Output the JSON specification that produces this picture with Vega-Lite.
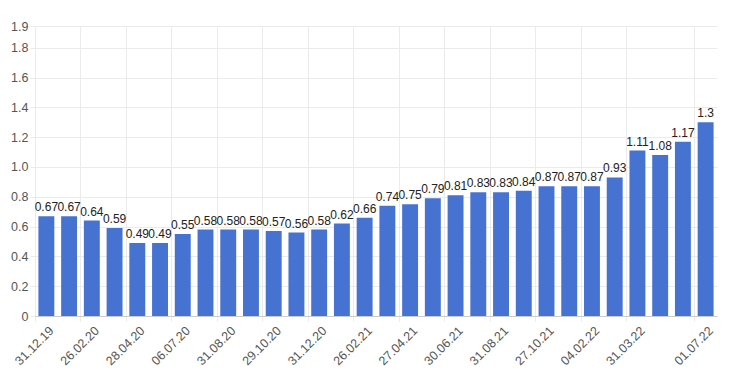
{
  "$schema": "https://vega.github.io/schema/vega-lite/v6.json",
  "width": 682,
  "height": 290,
  "autosize": {"type": "none"},
  "padding": {"left": 35, "top": 26, "right": 13, "bottom": 74},
  "background": "white",
  "data": {
    "values": [
      {"date": "31.12.19", "value": 0.67},
      {"date": "31.01.20", "value": 0.67},
      {"date": "26.02.20", "value": 0.64},
      {"date": "31.03.20", "value": 0.59},
      {"date": "28.04.20", "value": 0.49},
      {"date": "29.05.20", "value": 0.49},
      {"date": "06.07.20", "value": 0.55},
      {"date": "31.07.20", "value": 0.58},
      {"date": "31.08.20", "value": 0.58},
      {"date": "30.09.20", "value": 0.58},
      {"date": "29.10.20", "value": 0.57},
      {"date": "30.11.20", "value": 0.56},
      {"date": "31.12.20", "value": 0.58},
      {"date": "29.01.21", "value": 0.62},
      {"date": "26.02.21", "value": 0.66},
      {"date": "31.03.21", "value": 0.74},
      {"date": "27.04.21", "value": 0.75},
      {"date": "31.05.21", "value": 0.79},
      {"date": "30.06.21", "value": 0.81},
      {"date": "30.07.21", "value": 0.83},
      {"date": "31.08.21", "value": 0.83},
      {"date": "30.09.21", "value": 0.84},
      {"date": "27.10.21", "value": 0.87},
      {"date": "30.12.21", "value": 0.87},
      {"date": "04.02.22", "value": 0.87},
      {"date": "28.02.22", "value": 0.93},
      {"date": "31.03.22", "value": 1.11},
      {"date": "29.04.22", "value": 1.08},
      {"date": "31.05.22", "value": 1.17},
      {"date": "01.07.22", "value": 1.3}
    ]
  },
  "config": {
    "view": {"stroke": null},
    "font": "Liberation Sans",
    "axis": {
      "labelFont": "Liberation Sans",
      "labelColor": "#555555",
      "labelFontSize": 12.5,
      "gridColor": "#ebebeb",
      "tickColor": "#ebebeb",
      "domainColor": "#cccccc",
      "title": null
    }
  },
  "encoding": {
    "x": {
      "field": "date",
      "type": "nominal",
      "sort": null,
      "scale": {"paddingInner": 0.3, "paddingOuter": 0.15},
      "axis": {
        "values": ["31.12.19", "26.02.20", "28.04.20", "06.07.20", "31.08.20", "29.10.20", "31.12.20", "26.02.21", "27.04.21", "30.06.21", "31.08.21", "27.10.21", "04.02.22", "31.03.22", "01.07.22"],
        "bandPosition": 0,
        "tickOffset": -3.4,
        "labelAngle": 315,
        "labelAlign": "right",
        "labelBaseline": "top",
        "labelPadding": 3,
        "labelOffset": 4,
        "tickSize": 5,
        "grid": true,
        "domain": true,
        "domainColor": "#cccccc"
      }
    },
    "y": {
      "field": "value",
      "type": "quantitative",
      "scale": {"domain": [0, 1.946], "nice": false, "zero": true},
      "axis": {
        "values": [0, 0.2, 0.4, 0.6, 0.8, 1.0, 1.2, 1.4, 1.6, 1.8, 1.946],
        "labelExpr": "datum.value > 1.9 ? '1.9' : (datum.value == 0 ? '0' : format(datum.value, '.1f'))",
        "tickSize": 5,
        "labelPadding": 2,
        "domain": false,
        "grid": true
      }
    }
  },
  "layer": [
    {"mark": {"type": "bar", "color": "#4673d1"}},
    {
      "mark": {"type": "text", "baseline": "bottom", "dy": -2, "fontSize": 12, "color": "#222222", "font": "Liberation Sans"},
      "encoding": {"text": {"field": "value", "type": "quantitative", "format": "~g"}}
    }
  ]
}
